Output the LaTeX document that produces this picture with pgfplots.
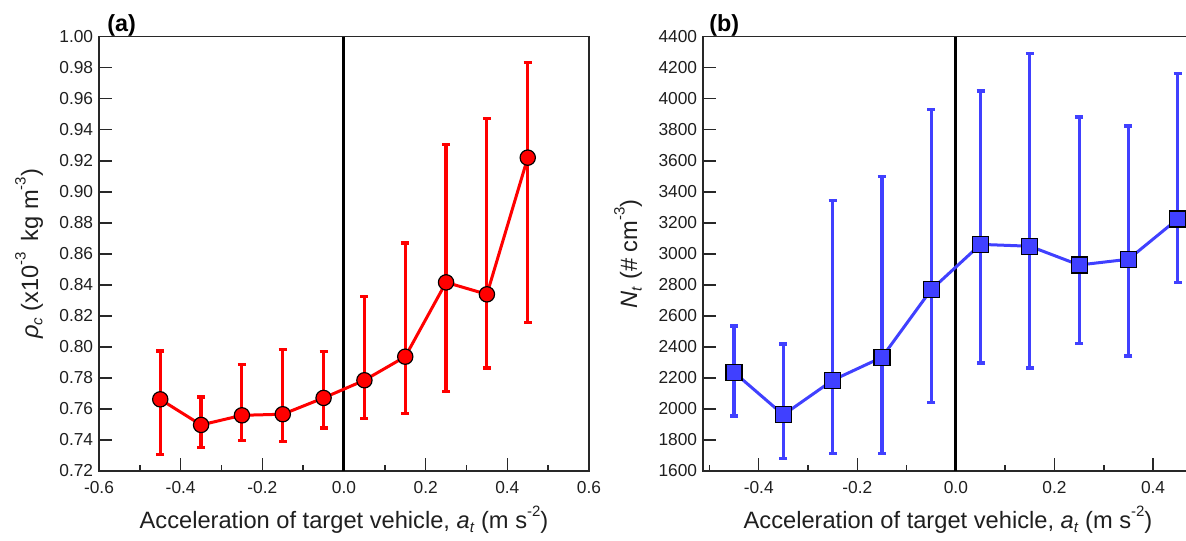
\documentclass[border=0pt]{standalone}
\usepackage{fontspec}
\setmainfont{Liberation Sans}
\usepackage{pgfplots}
\usepackage{pgfplotstable}
\pgfplotsset{compat=1.18}

\definecolor{rhored}{RGB}{255,0,0}
\definecolor{ntblue}{RGB}{64,64,255}
\definecolor{axisgray}{RGB}{40,40,40}

\tikzset{tickmark/.style={draw=axisgray, line width=0.9pt}}

% x, mean, upper and lower error
\pgfplotstableread{
x      y       ep      em
-0.45  0.7662  0.0312  0.0354
-0.35  0.7497  0.0180  0.0144
-0.25  0.7559  0.0326  0.0160
-0.15  0.7566  0.0417  0.0174
-0.05  0.7671  0.0297  0.0194
0.05   0.7785  0.0542  0.0246
0.15   0.7937  0.0733  0.0365
0.25   0.8416  0.0890  0.0705
0.35   0.8339  0.1132  0.0475
0.45   0.9220  0.0612  0.1064
}\rhotable

\pgfplotstableread{
x      y     ep    em
-0.45  2236  299   281
-0.35  1962  457   283
-0.25  2185  1160  473
-0.15  2333  1163  621
-0.05  2769  1161  726
0.05   3061  989   765
0.15   3049  1244  785
0.25   2928  954   505
0.35   2965  859   624
0.45   3225  935   411
}\nttable

\pgfplotsset{
  panel/.style={
    scale only axis,
    clip=false,
    width=294pt, height=260.6pt,
    axis line style={axisgray, line width=0.9pt},
    tick align=inside,
    xtick pos=left, ytick pos=left,
    tickwidth=7.6pt,
    subtickwidth=3.6pt,
    tick style={color=axisgray, line width=0.9pt},
    minor x tick num=1,
    /pgf/number format/assume math mode=true,
    ticklabel style={font=\fontsize{10.4}{12}\selectfont, text=black!88},
    xticklabel style={/pgf/number format/fixed, /pgf/number format/fixed zerofill,
      /pgf/number format/precision=1, /tikz/yshift=-3pt},
    label style={font=\fontsize{14.2}{16}\selectfont, text=black!88},
    ylabel shift=3pt,
    xlabel={Acceleration of target vehicle, \textit{a}\raisebox{-0.35ex}{\fontsize{9}{10}\selectfont\textit{t}} (m s\raisebox{1.0ex}{\fontsize{9}{10}\selectfont -2})},
    error bars/y dir=both,
    error bars/y explicit,
  },
}

\begin{document}
\begin{tikzpicture}
% (a) particle density
\begin{axis}[panel,
  at={(59.4pt,41.4pt)}, anchor=south west,
  xmin=-0.6, xmax=0.6,
  ymin=0.72, ymax=1.00,
  xtick={-0.6,-0.4,...,0.61},
  ytick={0.72,0.74,...,1.001},
  yticklabel style={/pgf/number format/fixed, /pgf/number format/fixed zerofill,
    /pgf/number format/precision=2},
  ylabel={\textit{ρ}\raisebox{-0.35ex}{\fontsize{9}{10}\selectfont\textit{c}} (x10\raisebox{1.0ex}{\fontsize{9}{10}\selectfont -3}\, kg m\raisebox{1.0ex}{\fontsize{9}{10}\selectfont -3})},
  error bars/error bar style={rhored, line width=1.9pt},
  error bars/error mark options={rotate=90, rhored, line width=1.9pt, mark size=2.4pt},
]
% tick marks along the frame
\pgfplotsinvokeforeach{-0.4,-0.2,0.2,0.4}{\draw[tickmark] (axis cs:#1,0.72) -- ++(0pt,7.6pt);}
\pgfplotsinvokeforeach{-0.5,-0.3,-0.1,0.1,0.3,0.5}{\draw[tickmark] (axis cs:#1,0.72) -- ++(0pt,3.6pt);}
\pgfplotsinvokeforeach{0.74,0.76,0.78,0.80,0.82,0.84,0.86,0.88,0.90,0.92,0.94,0.96,0.98}{\draw[tickmark] (axis cs:-0.6,#1) -- ++(7.6pt,0pt);}
\addplot[black, line width=1.8pt, forget plot] coordinates {(0,0.72) (0,1.00)};
\addplot[rhored, line width=1.8pt, mark=*, mark size=4.6pt,
  mark options={fill=rhored, draw=black, line width=0.7pt}]
  table[x=x, y=y, y error plus=ep, y error minus=em] {\rhotable};
\node[anchor=base west, inner sep=0pt, font=\fontsize{14}{16}\selectfont\bfseries]
  at (rel axis cs:0,1) [xshift=4.8pt, yshift=3pt] {(a)};
\end{axis}

% (b) number concentration
\begin{axis}[panel,
  at={(421.8pt,41.4pt)}, anchor=south west,
  xmin=-0.513, xmax=0.481,
  ymin=1600, ymax=4400,
  xtick={-0.4,-0.2,...,0.41},
  minor xtick={-0.5,-0.3,-0.1,0.1,0.3},
  minor x tick num=0,
  ytick={1600,1800,...,4400},
  yticklabel style={/pgf/number format/fixed, /pgf/number format/set thousands separator={}},
  ylabel={\textit{N}\raisebox{-0.35ex}{\fontsize{9}{10}\selectfont\textit{t}} (\# cm\raisebox{1.0ex}{\fontsize{9}{10}\selectfont -3})},
  error bars/error bar style={ntblue, line width=1.9pt},
  error bars/error mark options={rotate=90, ntblue, line width=1.9pt, mark size=2.4pt},
]
% tick marks along the frame
\pgfplotsinvokeforeach{-0.4,-0.2,0.2,0.4}{\draw[tickmark] (axis cs:#1,1600) -- ++(0pt,7.6pt);}
\pgfplotsinvokeforeach{-0.5,-0.3,-0.1,0.1,0.3}{\draw[tickmark] (axis cs:#1,1600) -- ++(0pt,3.6pt);}
\pgfplotsinvokeforeach{1800,2000,2200,2400,2600,2800,3000,3200,3400,3600,3800,4000,4200}{\draw[tickmark] (axis cs:-0.513,#1) -- ++(7.6pt,0pt);}
\addplot[black, line width=1.8pt, forget plot] coordinates {(0,1600) (0,4400)};
\addplot[ntblue, line width=1.8pt, mark=square*, mark size=4.8pt,
  mark options={fill=ntblue, draw=black, line width=0.7pt}]
  table[x=x, y=y, y error plus=ep, y error minus=em] {\nttable};
\node[anchor=base west, inner sep=0pt, font=\fontsize{14}{16}\selectfont\bfseries]
  at (rel axis cs:0,1) [xshift=3.6pt, yshift=3pt] {(b)};
\end{axis}
% page frame: the right panel runs past the right edge
\pgfresetboundingbox
\path[use as bounding box] (0,0) rectangle (711.6pt,324pt);
\end{tikzpicture}
\end{document}
